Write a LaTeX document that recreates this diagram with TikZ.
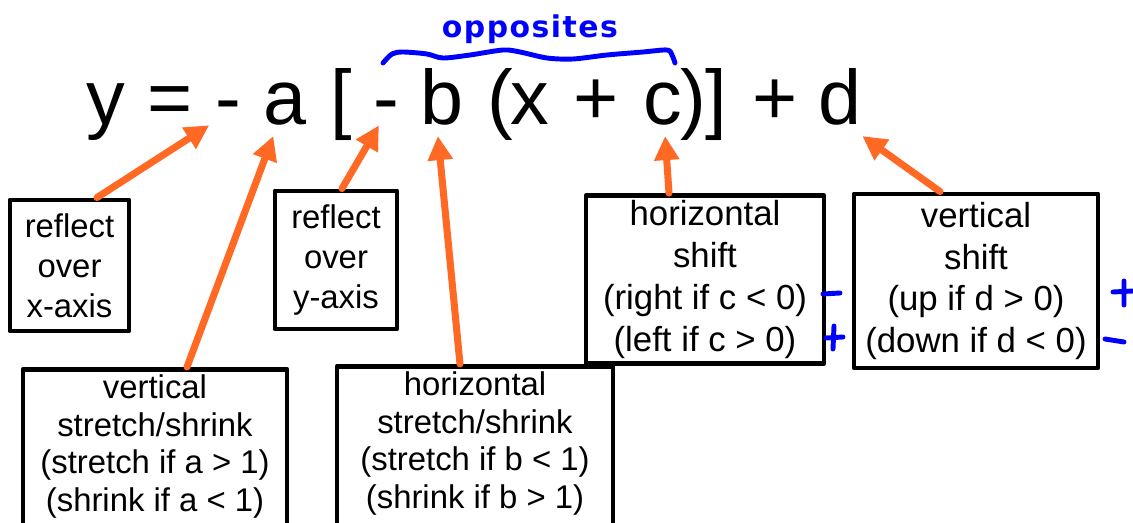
\documentclass[tikz,border=0pt]{standalone}
\usepackage{fontspec}
\setmainfont{Liberation Sans}
\newfontfamily\handfont[LetterSpace=5]{DejaVu Sans}
\usetikzlibrary{arrows.meta}
\definecolor{arrorange}{RGB}{255,105,35}
\definecolor{penblue}{RGB}{0,0,255}
\begin{document}
\begin{tikzpicture}[x=0.02cm,y=-0.02cm,line join=round,line cap=round,
	tok/.style={font=\fontsize{44}{50}\selectfont,anchor=base,inner sep=0.2cm},
	sgn/.style={tok,inner ysep=0pt},
	note/.style={draw,line width=2.8pt,align=center,inner sep=0.1cm},
	pen/.style={penblue,line width=2.8pt},
	arr/.style={arrorange,line width=4pt,-{Triangle[length=0.48cm,width=0.48cm]}}]
	\clip (0,0) rectangle (1133,523);
	
	% the equation
	\node[tok] (ty) at (106,125) {y};
	\node[tok] (teq) at (170,125) {=};
	\node[sgn] (tm1) at (228,125) {-};
	\node[tok] (ta) at (285,125) {a};
	\node[tok] (tlb) at (341,125) {[};
	\node[sgn] (tm2) at (386,125) {-};
	\node[tok] (tb) at (442,125) {b};
	\node[tok] (tlp) at (500,125) {(};
	\node[tok] (tx) at (530,125) {x};
	\node[tok] (tp1) at (596,125) {+};
	\node[tok] (tc) at (663,125) {c};
	\node[tok] (trp) at (693,125) {)};
	\node[tok] (trb) at (716,125) {]};
	\node[tok] (tp2) at (775,125) {+};
	\node[tok] (td) at (840,125) {d};
	
	% the notes
	\node[note,font=\fontsize{18.7}{22.7}\selectfont,minimum width=2.38cm,minimum height=2.62cm] (xrefl) at (69.5,265.5) {reflect\\over\\x-axis};
	\node[note,font=\fontsize{18.7}{22.7}\selectfont,minimum width=2.44cm,minimum height=2.76cm] (yrefl) at (336,260) {reflect\\over\\y-axis};
	\node[note,font=\fontsize{18.7}{21.5}\selectfont,anchor=north,minimum width=5.28cm,text depth=4cm] (vstr) at (155,367) {vertical\\stretch/shrink\\(stretch if a > 1)\\(shrink if a < 1)};
	\node[note,font=\fontsize{18.7}{21.5}\selectfont,anchor=north,minimum width=5.52cm,text depth=4cm] (hstr) at (475,364) {horizontal\\stretch/shrink\\(stretch if b < 1)\\(shrink if b > 1)};
	\node[note,font=\fontsize{19.8}{23.8}\selectfont,minimum width=4.76cm,minimum height=3.34cm] (hshift) at (705,279.5) {horizontal\\shift\\(right if c < 0)\\(left if c > 0)};
	\node[note,font=\fontsize{19.8}{23.8}\selectfont,minimum width=4.88cm,minimum height=3.48cm] (vshift) at (976,281) {vertical\\shift\\(up if d > 0)\\(down if d < 0)};
	
	\draw[arr] ([xshift=0.55cm]xrefl.north)--(tm1);
	\draw[arr] ([xshift=0.64cm]vstr.north)--(ta);
	\draw[arr] ([xshift=0.12cm]yrefl.north)--(tm2);
	\draw[arr] ([xshift=-0.3cm]hstr.north)--(tb.264);
	\draw[arr] ([xshift=-0.72cm]hshift.north)--(tc);
	\draw[arr] ([xshift=-0.72cm]vshift.north)--(td.300);
	
	% pen marks
	\node[penblue,font=\handfont\bfseries\fontsize{17}{19}\selectfont] (opp) at (530,29) {opposites};
	\draw[pen] plot[smooth] coordinates {(383,63) (392,54) (403,52) (427,54) (443,58) (470,55) (503,50) (520,52) (547,58) (573,59) (607,55) (643,52) (667,50) (672,55) (675,63)};
	\draw[pen] (823,294)--(840,293);
	\draw[pen] (826,338)--(843,337) (834,326)--(833,349);
	\draw[pen] (1113,292)--(1133,291) (1124,281)--(1124,305);
	\draw[pen] (1105,339)--(1124,342);
	
\end{tikzpicture}
\end{document}
